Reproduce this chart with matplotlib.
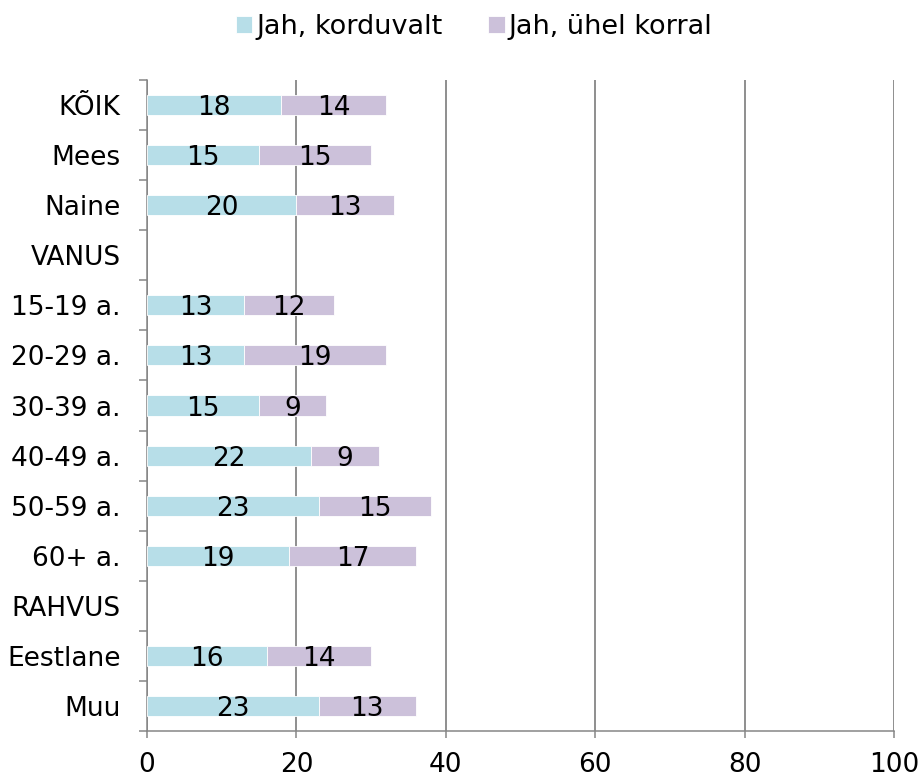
import numpy as np
import matplotlib
matplotlib.use('Agg')
import matplotlib.pyplot as plt

categories = ['KÕIK', 'Mees', 'Naine', 'VANUS', '15-19 a.', '20-29 a.', '30-39 a.',
              '40-49 a.', '50-59 a.', '60+ a.', 'RAHVUS', 'Eestlane', 'Muu']
korduvalt = [18, 15, 20, None, 13, 13, 15, 22, 23, 19, None, 16, 23]
uhel_korral = [14, 15, 13, None, 12, 19, 9, 9, 15, 17, None, 14, 13]
series_names = ['Jah, korduvalt', 'Jah, ühel korral']
x_ticks = [0, 20, 40, 60, 80, 100]

blue = '#B7DEE8'
lilac = '#CCC1DA'
axis_gray = '#868686'
fs = 19

plt.rcParams['font.family'] = ['DejaVu Sans']

fig = plt.figure(figsize=(9.22, 7.76), dpi=100)
ax = fig.add_axes([147 / 922, 1 - 731 / 776, (894 - 147) / 922, (731 - 80) / 776])

y = np.arange(len(categories))
v1 = np.array([np.nan if v is None else v for v in korduvalt], dtype=float)
v2 = np.array([np.nan if v is None else v for v in uhel_korral], dtype=float)

b1 = ax.barh(y, v1, height=0.4, color=blue, edgecolor='white', linewidth=0.6,
             label=series_names[0], zorder=3)
b2 = ax.barh(y, v2, left=v1, height=0.4, color=lilac, edgecolor='white',
             linewidth=0.6, label=series_names[1], zorder=3)

# value labels centred in each segment
for left, vals in ((np.zeros(len(v1)), v1), (v1, v2)):
    for yi, l, v in zip(y, left, vals):
        if np.isnan(v):
            continue
        ax.text(l + v / 2, yi, f'{v:.0f}', ha='center', va='center_baseline',
                fontsize=fs, color='black', zorder=4)

ax.set_xlim(0, 100)
ax.set_ylim(len(categories) - 0.5, -0.5)
ax.set_xticks(x_ticks)
ax.set_xticklabels([str(t) for t in x_ticks], fontsize=fs)
ax.set_yticks(y)
ax.set_yticklabels(categories, fontsize=fs)
ax.tick_params(axis='y', length=0, pad=19)
ax.set_yticks(np.arange(-0.5, len(categories), 1), minor=True)
ax.tick_params(axis='y', which='minor', length=6, width=1.1, color=axis_gray)
ax.tick_params(axis='x', length=5, width=1.1, color=axis_gray, pad=10)

ax.grid(axis='x', color=axis_gray, linewidth=1.3, zorder=0)
for side in ('top', 'right'):
    ax.spines[side].set_visible(False)
for side in ('left', 'bottom'):
    ax.spines[side].set_color(axis_gray)
    ax.spines[side].set_linewidth(1.1)

fig.legend(handles=[b1, b2], loc='center', bbox_to_anchor=(474 / 922, 1 - 27 / 776),
           ncol=2, frameon=False, fontsize=19.5, handlelength=0.6, handleheight=0.6,
           handletextpad=0.15, columnspacing=1.7)

fig.savefig('out.png', dpi=100)
